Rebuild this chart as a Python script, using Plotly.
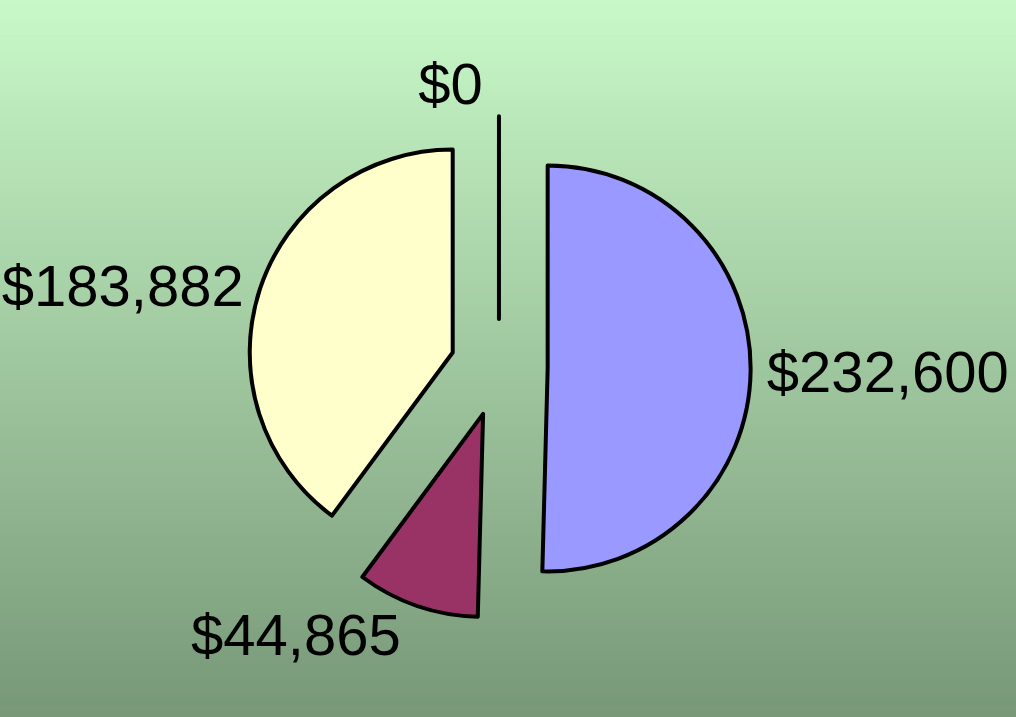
import plotly.graph_objects as go

# Data
labels = ["Blue", "Maroon", "Yellow", "Zero"]
values = [232600, 44865, 183882, 0]
colors = ["#9999FF", "#993366", "#FFFFCC", "#FFFFFF"]

W, H = 1016, 717
fig = go.Figure()

fig.add_trace(go.Pie(
    labels=labels,
    values=values,
    sort=False,
    direction="clockwise",
    rotation=0,
    pull=[0.24] * len(values),
    marker=dict(colors=colors, line=dict(color="black", width=4)),
    texttemplate="%{value:$,.0f}",
    textposition="outside",
    textfont=dict(family="Liberation Sans, Arial, sans-serif", size=58, color="black"),
    showlegend=False,
    automargin=False,
    hoverinfo="label+value",
    domain=dict(x=[0.2434, 0.7388], y=[0.136, 0.838]),
))

# vertical gradient background
top = (200, 248, 200)
bot = (120, 152, 120)
n = 120
shapes = []
for i in range(n):
    t = i / (n - 1)
    c = tuple(round(top[k] + (bot[k] - top[k]) * t) for k in range(3))
    shapes.append(dict(
        type="rect", xref="paper", yref="paper", layer="below",
        x0=0, x1=1, y0=1 - (i + 1) / n, y1=1 - i / n + 0.001,
        fillcolor="rgb(%d,%d,%d)" % c, line=dict(width=0),
    ))

fig.update_layout(
    width=W, height=H,
    margin=dict(l=0, r=0, t=0, b=0, pad=0, autoexpand=False),
    paper_bgcolor="rgb(160,200,160)",
    shapes=shapes,
)

fig.write_html(
    "out.html",
    config={"displayModeBar": False},
    post_script="document.body.style.margin='0';document.body.style.overflow='hidden';",
)
